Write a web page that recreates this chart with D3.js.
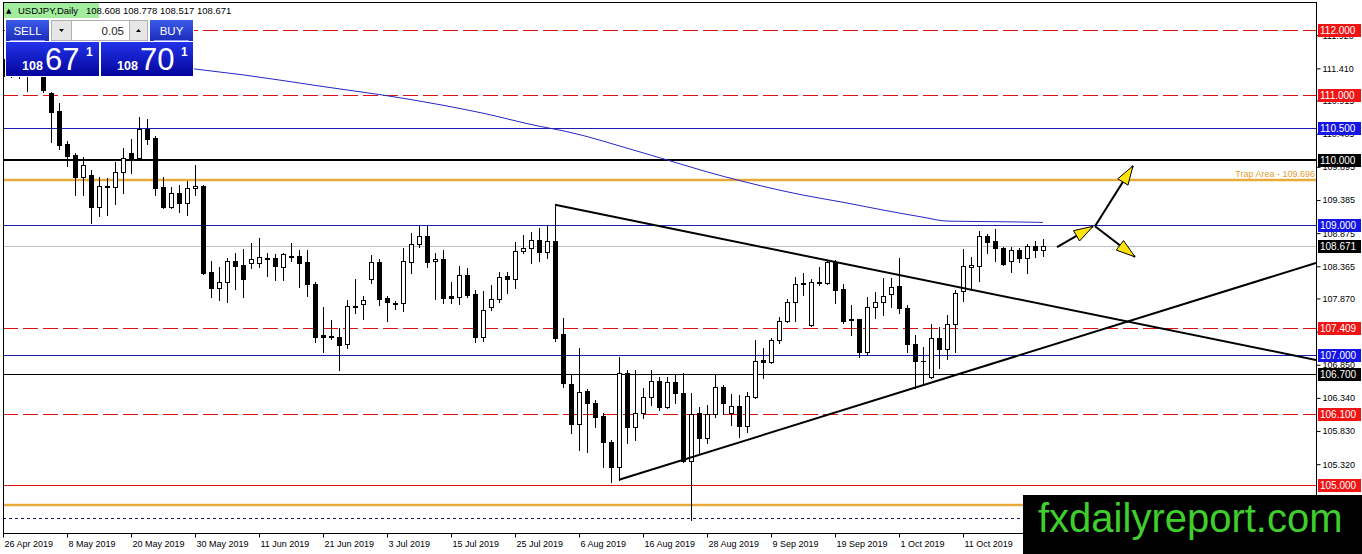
<!DOCTYPE html>
<html>
<head>
<meta charset="utf-8">
<script src="https://cdn.jsdelivr.net/npm/d3@7"></script>
<style>
  body { margin: 0; background: #fff; }
  svg { display: block; font-family: "Liberation Sans", Arial, sans-serif; }
</style>
</head>
<body>
<div id="svgContainer"></div>
<script>
var width = 1362;
var height = 554;

var symbol = "USDJPY,Daily";

// daily bars, oldest first (26 Apr 2019 .. 25 Oct 2019)
var openPrices = [
  111.55, 111.30, 111.50, 111.40, 111.45, 111.32, 111.03, 110.75, 110.25, 110.08,
  109.74, 109.77, 109.28, 109.60, 109.58, 109.82, 110.11, 110.03, 110.48, 110.34,
  109.58, 109.28, 109.49, 109.34, 109.57, 109.60, 108.28, 108.03, 108.12, 108.45,
  108.38, 108.42, 108.42, 108.49, 108.49, 108.35, 108.51, 108.52, 108.43, 108.09,
  107.31, 107.29, 107.28, 107.17, 107.75, 107.78, 108.17, 108.43, 107.88, 107.80,
  107.80, 108.43, 108.71, 108.83, 108.45, 108.48, 107.91, 107.89, 108.23, 107.94,
  107.28, 107.74, 107.86, 108.22, 108.17, 108.60, 108.65, 108.77, 108.58, 108.75,
  107.32, 106.55, 105.94, 106.45, 106.26, 106.06, 105.66, 105.28, 106.72, 105.89,
  106.11, 106.35, 106.60, 106.20, 106.58, 106.42, 105.37, 106.11, 105.72, 106.09,
  106.51, 106.11, 106.22, 105.91, 106.35, 106.92, 106.89, 107.23, 107.52, 107.82,
  108.09, 107.46, 108.12, 108.11, 108.43, 108.02, 107.55, 107.55, 107.05, 107.74,
  107.82, 107.94, 108.06, 107.72, 107.17, 106.91, 106.66, 107.26, 107.09, 107.48,
  107.98, 108.35, 108.37, 108.83, 108.75, 108.65, 108.45, 108.62, 108.49, 108.68,
  108.608
];
var highPrices = [
  111.65, 111.62, 111.65, 111.70, 111.62, 111.50, 111.05, 110.88, 110.29, 110.11,
  110.05, 109.85, 109.74, 109.72, 109.97, 110.18, 110.32, 110.66, 110.63, 110.37,
  109.74, 109.58, 109.62, 109.68, 109.92, 109.62, 108.45, 108.35, 108.49, 108.57,
  108.63, 108.72, 108.80, 108.57, 108.55, 108.57, 108.72, 108.62, 108.62, 108.12,
  107.74, 107.54, 107.42, 107.85, 108.17, 107.91, 108.54, 108.48, 107.91, 107.83,
  108.65, 108.88, 108.98, 108.98, 108.57, 108.62, 108.12, 108.37, 108.34, 108.00,
  107.98, 108.08, 108.28, 108.28, 108.74, 108.85, 108.89, 108.95, 109.00, 109.31,
  107.57, 106.69, 107.11, 106.48, 106.31, 106.11, 105.69, 106.97, 106.77, 106.77,
  106.49, 106.77, 106.66, 106.66, 106.69, 106.72, 106.42, 106.20, 106.23, 106.69,
  106.54, 106.40, 106.38, 106.43, 107.23, 107.11, 107.26, 107.58, 107.86, 108.20,
  108.26, 108.17, 108.35, 108.46, 108.46, 108.09, 107.77, 107.56, 107.89, 107.97,
  108.18, 108.18, 108.49, 107.77, 107.31, 107.12, 107.48, 107.43, 107.62, 108.00,
  108.63, 108.51, 108.91, 108.86, 108.94, 108.66, 108.66, 108.65, 108.71, 108.75,
  108.778
];
var lowPrices = [
  111.25, 111.28, 111.26, 111.06, 111.32, 111.05, 110.28, 110.17, 109.91, 109.46,
  109.46, 109.03, 109.14, 109.15, 109.32, 109.49, 109.80, 110.02, 110.25, 109.46,
  109.26, 109.26, 109.20, 109.15, 109.46, 108.24, 107.89, 107.85, 107.82, 108.02,
  107.89, 108.34, 108.35, 108.22, 108.15, 108.15, 108.45, 108.05, 107.91, 107.20,
  107.05, 107.25, 106.77, 107.11, 107.65, 107.55, 108.11, 107.77, 107.52, 107.71,
  107.68, 108.26, 108.66, 108.35, 107.86, 107.80, 107.80, 107.78, 107.89, 107.20,
  107.22, 107.69, 107.82, 107.95, 108.03, 108.57, 108.42, 108.45, 108.49, 107.22,
  106.51, 105.80, 105.54, 105.51, 105.89, 105.28, 105.05, 105.08, 105.65, 105.69,
  106.03, 106.23, 106.15, 106.18, 106.26, 105.35, 104.46, 105.49, 105.65, 106.05,
  106.09, 105.92, 105.74, 105.82, 106.34, 106.65, 106.88, 107.18, 107.51, 107.52,
  107.92, 107.45, 108.08, 108.09, 107.80, 107.49, 107.31, 106.97, 107.00, 107.57,
  107.62, 107.74, 107.65, 107.05, 106.49, 106.57, 106.65, 106.80, 106.94, 107.05,
  107.83, 108.00, 108.14, 108.57, 108.45, 108.38, 108.28, 108.43, 108.26, 108.51,
  108.517
];
var closePrices = [
  111.30, 111.50, 111.40, 111.45, 111.50, 111.08, 110.74, 110.23, 110.06, 109.74,
  109.92, 109.28, 109.60, 109.58, 109.82, 110.03, 110.03, 110.48, 110.32, 109.57,
  109.28, 109.49, 109.34, 109.57, 109.60, 108.26, 108.03, 108.12, 108.45, 108.37,
  108.17, 108.48, 108.51, 108.48, 108.37, 108.55, 108.52, 108.42, 108.09, 107.28,
  107.28, 107.28, 107.15, 107.75, 107.76, 107.85, 108.43, 107.86, 107.82, 107.80,
  108.45, 108.71, 108.83, 108.43, 108.48, 107.88, 107.88, 108.23, 107.92, 107.28,
  107.69, 107.86, 108.20, 108.17, 108.60, 108.65, 108.77, 108.58, 108.75, 107.26,
  106.57, 105.94, 106.43, 106.26, 106.05, 105.66, 105.28, 106.72, 105.89, 106.11,
  106.35, 106.60, 106.20, 106.58, 106.42, 105.37, 106.09, 105.72, 106.09, 106.51,
  106.26, 106.22, 105.91, 106.37, 106.91, 106.89, 107.23, 107.52, 107.82, 108.09,
  108.11, 108.12, 108.11, 108.43, 108.00, 107.52, 107.54, 107.05, 107.74, 107.82,
  107.91, 108.05, 107.72, 107.17, 106.91, 106.90, 107.26, 107.09, 107.48, 107.95,
  108.37, 108.38, 108.83, 108.74, 108.65, 108.40, 108.62, 108.49, 108.68, 108.62,
  108.671
];

// time axis: one label every 8 bars
var dateLabels = ["26 Apr 2019", "8 May 2019", "20 May 2019", "30 May 2019", "11 Jun 2019",
  "21 Jun 2019", "3 Jul 2019", "15 Jul 2019", "25 Jul 2019", "6 Aug 2019", "16 Aug 2019",
  "28 Aug 2019", "9 Sep 2019", "19 Sep 2019", "1 Oct 2019", "11 Oct 2019", "23 Oct 2019"];
var barsPerLabel = 8;

// price scale labels
var priceTicks = [111.920, 111.410, 110.915, 110.405, 109.895, 109.385, 108.875, 108.365,
  107.870, 107.360, 106.850, 106.340, 105.830, 105.320, 104.810];

// moving average (read at a few bars)
var maBars = [15, 24, 30, 40, 50, 60, 67, 70, 80, 90, 100, 105, 110, 115, 118, 125, 130];
var maValues = [111.57, 111.40, 111.31, 111.13, 110.95, 110.72, 110.52, 110.45, 110.11,
  109.75, 109.46, 109.35, 109.23, 109.12, 109.06, 109.05, 109.04];

// horizontal levels drawn on the chart
var levelPrices = [112.000, 111.000, 110.500, 110.000, 109.696, 109.000, 107.409, 107.000,
  106.700, 106.100, 105.000, 104.690, 104.490];
var levelKinds = ["dash", "dash", "blue", "major", "trap", "blue", "dash", "blue",
  "minor", "dash", "solid", "trap", "dotted"];
var trapLevel = 109.696;

// triangle trend lines: [bar, price] anchor pairs, drawn as rays to the right
var trendAnchors = [
  [[69, 109.31], [130, 107.78]],
  [[77, 105.08], [130, 107.11]]
];

// scenario arrows: [bar, price] start and end
var arrowLines = [
  [[131.75, 108.66], [136.25, 108.98]],
  [[136.5, 108.98], [141.25, 109.91]],
  [[136.5, 108.98], [141.5, 108.51]]
];

var spread = 0.030;
var lotSize = "0.05";

var levelStyle = {
  dash:   { stroke: "#dd1111", width: 1, dash: "15,5", box: "#f01414" },
  solid:  { stroke: "#dd1111", width: 1, dash: null, box: "#f01414" },
  blue:   { stroke: "#1c1cb0", width: 1, dash: null, box: "#1515e6" },
  major:  { stroke: "#000000", width: 2, dash: null, box: "#000000" },
  minor:  { stroke: "#000000", width: 1, dash: null, box: "#000000" },
  trap:   { stroke: "#e9aa3c", width: 2.5, dash: null, box: null },
  dotted: { stroke: "#14146e", width: 1, dash: "3,3", box: null }
};

var fmt = d3.format(".3f");

var plot = { left: 3, top: 2, right: 1316, bottom: 533 };

var svg = d3.select("#svgContainer")
  .append("svg")
  .attr("width", width)
  .attr("height", height);

svg.append("rect")
  .attr("width", width)
  .attr("height", height)
  .attr("fill", "#fff");

// 8 px per bar, bar 0 sits on the left border
var x = d3.scaleLinear()
  .domain([0, 164.125])
  .range([plot.left, plot.right]);

var y = d3.scaleLinear()
  .domain([105, 112])
  .range([485, 30]);

var defs = svg.append("defs");
defs.append("clipPath")
  .attr("id", "plotClip")
  .append("rect")
  .attr("x", plot.left)
  .attr("y", plot.top)
  .attr("width", plot.right - plot.left)
  .attr("height", plot.bottom - plot.top);

function addGradient(id, top, bottom) {
  var g = defs.append("linearGradient")
    .attr("id", id)
    .attr("x1", 0).attr("y1", 0).attr("x2", 0).attr("y2", 1);
  g.append("stop").attr("offset", "0%").attr("stop-color", top);
  g.append("stop").attr("offset", "100%").attr("stop-color", bottom);
}
addGradient("btnGrad", "#3b5ae8", "#1b2cbc");
addGradient("priceGrad", "#2233ea", "#04049c");

var chart = svg.append("g").attr("clip-path", "url(#plotClip)");

function crisp(v) {
  return Math.round(v) + 0.5;
}

//levels
chart.selectAll("line.level")
  .data(levelPrices)
  .enter()
  .append("line")
  .attr("class", "level")
  .attr("x1", plot.left)
  .attr("x2", plot.right)
  .attr("y1", function (d, i) {
    return levelStyle[levelKinds[i]].width === 1 ? crisp(y(d)) : Math.round(y(d));
  })
  .attr("y2", function (d, i) {
    return levelStyle[levelKinds[i]].width === 1 ? crisp(y(d)) : Math.round(y(d));
  })
  .attr("stroke", function (d, i) { return levelStyle[levelKinds[i]].stroke; })
  .attr("stroke-width", function (d, i) { return levelStyle[levelKinds[i]].width; })
  .attr("stroke-dasharray", function (d, i) { return levelStyle[levelKinds[i]].dash; });

// current price line
var lastIndex = closePrices.length - 1;
var lastClose = closePrices[lastIndex];
chart.append("line")
  .attr("x1", plot.left)
  .attr("x2", plot.right)
  .attr("y1", crisp(y(lastClose)))
  .attr("y2", crisp(y(lastClose)))
  .attr("stroke", "#c0c0c0")
  .attr("stroke-width", 1);

// trap area label
chart.append("text")
  .attr("x", plot.right - 1)
  .attr("y", y(trapLevel) - 3)
  .attr("text-anchor", "end")
  .attr("font-size", 9)
  .attr("fill", "#e0a030")
  .text("Trap Area - " + fmt(trapLevel));

// moving average
var maLine = d3.line()
  .x(function (d) { return x(d[0]); })
  .y(function (d) { return y(d[1]); })
  .curve(d3.curveMonotoneX);

chart.append("path")
  .datum(maBars.map(function (b, i) { return [b, maValues[i]]; }))
  .attr("d", maLine)
  .attr("fill", "none")
  .attr("stroke", "#2626c4")
  .attr("stroke-width", 1);

// candles
var bars = openPrices.map(function (o, i) {
  return { i: i, o: o, h: highPrices[i], l: lowPrices[i], c: closePrices[i] };
});

var candle = chart.selectAll("g.candle")
  .data(bars)
  .enter()
  .append("g")
  .attr("class", "candle");

candle.append("line")
  .attr("x1", function (d) { return Math.round(x(d.i)) + 0.5; })
  .attr("x2", function (d) { return Math.round(x(d.i)) + 0.5; })
  .attr("y1", function (d) { return Math.round(y(d.h)); })
  .attr("y2", function (d) { return Math.round(y(d.l)) + 1; })
  .attr("stroke", "#000")
  .attr("stroke-width", 1);

candle.append("rect")
  .attr("x", function (d) {
    var cx = Math.round(x(d.i));
    return d.c < d.o ? cx - 2 : cx - 1.5;
  })
  .attr("y", function (d) {
    var top = Math.round(y(Math.max(d.o, d.c)));
    return d.c < d.o ? top : top + 0.5;
  })
  .attr("width", function (d) { return d.c < d.o ? 5 : 4; })
  .attr("height", function (d) {
    var h = Math.round(y(Math.min(d.o, d.c))) - Math.round(y(Math.max(d.o, d.c)));
    return Math.max(1, d.c < d.o ? h + 1 : h);
  })
  .attr("fill", function (d) { return d.c < d.o ? "#000" : "#fff"; })
  .attr("stroke", function (d) { return d.c < d.o ? "none" : "#000"; })
  .attr("stroke-width", 1);

// trend lines, extended to the right edge
var lastBarVisible = x.invert(plot.right);
trendAnchors.forEach(function (t) {
  var slope = (t[1][1] - t[0][1]) / (t[1][0] - t[0][0]);
  var endPrice = t[0][1] + slope * (lastBarVisible - t[0][0]);
  chart.append("line")
    .attr("x1", x(t[0][0]))
    .attr("y1", y(t[0][1]))
    .attr("x2", x(lastBarVisible))
    .attr("y2", y(endPrice))
    .attr("stroke", "#000")
    .attr("stroke-width", 2);
});

// scenario arrows
arrowLines.forEach(function (a) {
  var x1 = x(a[0][0]), y1 = y(a[0][1]);
  var x2 = x(a[1][0]), y2 = y(a[1][1]);
  chart.append("line")
    .attr("x1", x1).attr("y1", y1)
    .attr("x2", x2).attr("y2", y2)
    .attr("stroke", "#000")
    .attr("stroke-width", 2);
  var ang = Math.atan2(y2 - y1, x2 - x1);
  var len = 19, half = 6;
  var bx = x2 - len * Math.cos(ang), by = y2 - len * Math.sin(ang);
  var pts = [
    [x2, y2],
    [bx + half * Math.sin(ang), by - half * Math.cos(ang)],
    [bx - half * Math.sin(ang), by + half * Math.cos(ang)]
  ];
  chart.append("polygon")
    .attr("points", pts.map(function (p) { return p.join(","); }).join(" "))
    .attr("fill", "#ffe40a")
    .attr("stroke", "#000")
    .attr("stroke-width", 1);
});

// frame
svg.append("rect")
  .attr("x", plot.left + 0.5)
  .attr("y", plot.top + 0.5)
  .attr("width", plot.right - plot.left)
  .attr("height", plot.bottom - plot.top)
  .attr("fill", "none")
  .attr("stroke", "#000")
  .attr("stroke-width", 1);

// price axis
var yAxis = svg.append("g")
  .attr("transform", "translate(" + (plot.right + 0.5) + ",0)")
  .call(d3.axisRight(y)
    .tickValues(priceTicks)
    .tickSize(4)
    .tickPadding(2)
    .tickFormat(fmt));
yAxis.select(".domain").remove();
yAxis.selectAll("text")
  .attr("font-size", 9)
  .attr("font-family", "Liberation Sans, Arial, sans-serif")
  .attr("fill", "#000");

// time axis
var dateBars = dateLabels.map(function (d, i) { return i * barsPerLabel; });
var xAxis = svg.append("g")
  .attr("transform", "translate(0," + (plot.bottom + 0.5) + ")")
  .call(d3.axisBottom(x)
    .tickValues(dateBars)
    .tickSize(4)
    .tickPadding(3)
    .tickFormat(function (d, i) { return dateLabels[i]; }));
xAxis.select(".domain").remove();
xAxis.selectAll("text")
  .attr("text-anchor", "start")
  .attr("x", 1)
  .attr("font-size", 9)
  .attr("font-family", "Liberation Sans, Arial, sans-serif")
  .attr("fill", "#000");

// level price boxes on the scale
var boxes = [];
levelPrices.forEach(function (p, i) {
  var st = levelStyle[levelKinds[i]];
  if (st.box) boxes.push({ p: p, color: st.box });
});
boxes.push({ p: lastClose, color: "#000" });

var box = svg.selectAll("g.pbox")
  .data(boxes)
  .enter()
  .append("g")
  .attr("class", "pbox");
box.append("rect")
  .attr("x", plot.right + 2)
  .attr("y", function (d) { return Math.round(y(d.p)) - 6; })
  .attr("width", width - plot.right - 3)
  .attr("height", 13)
  .attr("fill", function (d) { return d.color; });
box.append("text")
  .attr("x", plot.right + 4)
  .attr("y", function (d) { return Math.round(y(d.p)) + 4; })
  .attr("font-size", 10)
  .attr("fill", "#fff")
  .text(function (d) { return fmt(d.p); });

// symbol header
svg.append("rect")
  .attr("x", plot.left + 1)
  .attr("y", plot.top + 1)
  .attr("width", 95)
  .attr("height", 15)
  .attr("fill", "#a2ec9e");
svg.append("text")
  .attr("x", 6)
  .attr("y", 13)
  .attr("font-size", 7)
  .attr("font-family", "DejaVu Sans, sans-serif")
  .text("\u25B2");
svg.append("text")
  .attr("x", 18)
  .attr("y", 14)
  .attr("font-size", 9.5)
  .text(symbol);
svg.append("text")
  .attr("x", 86)
  .attr("y", 14)
  .attr("font-size", 9.5)
  .text([openPrices[lastIndex], highPrices[lastIndex], lowPrices[lastIndex], lastClose].map(fmt).join(" "));

// one click trading panel
var panel = svg.append("g");
panel.append("rect")
  .attr("x", 5).attr("y", 19).attr("width", 189).attr("height", 58)
  .attr("fill", "#fff");

function button(x0, w, label) {
  panel.append("rect")
    .attr("x", x0).attr("y", 20).attr("width", w).attr("height", 21)
    .attr("fill", "url(#btnGrad)");
  panel.append("line")
    .attr("x1", x0 + 4).attr("x2", x0 + w - 4)
    .attr("y1", 40.5).attr("y2", 40.5)
    .attr("stroke", "#8c9cf0");
  panel.append("text")
    .attr("x", x0 + w / 2).attr("y", 35)
    .attr("text-anchor", "middle")
    .attr("font-size", 11.5)
    .attr("fill", "#fff")
    .text(label);
}
button(6, 43, "SELL");
button(150, 43, "BUY");

// lot size spinner
panel.append("rect")
  .attr("x", 51.5).attr("y", 20.5).attr("width", 20).attr("height", 20)
  .attr("fill", "#e6e6e6").attr("stroke", "#b0b0b0");
panel.append("path")
  .attr("d", "M59,29 L64,29 L61.5,32 Z").attr("fill", "#000");
panel.append("rect")
  .attr("x", 71.5).attr("y", 20.5).attr("width", 58).attr("height", 20)
  .attr("fill", "#fff").attr("stroke", "#b0b0b0");
panel.append("text")
  .attr("x", 124).attr("y", 35)
  .attr("text-anchor", "end")
  .attr("font-size", 11.5)
  .attr("fill", "#222")
  .text(lotSize);
panel.append("rect")
  .attr("x", 129.5).attr("y", 20.5).attr("width", 18).attr("height", 20)
  .attr("fill", "#e6e6e6").attr("stroke", "#b0b0b0");
panel.append("path")
  .attr("d", "M136,32 L141,32 L138.5,29 Z").attr("fill", "#000");

function priceBox(x0, w, price) {
  var s = price.toFixed(3);
  panel.append("rect")
    .attr("x", x0).attr("y", 42).attr("width", w).attr("height", 34)
    .attr("fill", "url(#priceGrad)");
  panel.append("text")
    .attr("x", x0 + 16).attr("y", 70)
    .attr("font-size", 12.5)
    .attr("font-weight", "bold")
    .attr("fill", "#fff")
    .text(s.slice(0, 3));
  panel.append("text")
    .attr("x", x0 + 39).attr("y", 70)
    .attr("font-size", 31)
    .attr("fill", "#fff")
    .text(s.slice(4, 6));
  panel.append("text")
    .attr("x", x0 + 80).attr("y", 56)
    .attr("font-size", 12)
    .attr("font-weight", "bold")
    .attr("fill", "#fff")
    .text(s.slice(6));
}
priceBox(6, 93, lastClose);
priceBox(101, 92, lastClose + spread);

// watermark
svg.append("rect")
  .attr("x", 1023).attr("y", 495)
  .attr("width", width - 1023).attr("height", height - 495)
  .attr("fill", "#000");
svg.append("text")
  .attr("x", 1038).attr("y", 532)
  .attr("font-size", 40)
  .attr("fill", "#3fcf2d")
  .text("fxdailyreport.com");
</script>
</body>
</html>
